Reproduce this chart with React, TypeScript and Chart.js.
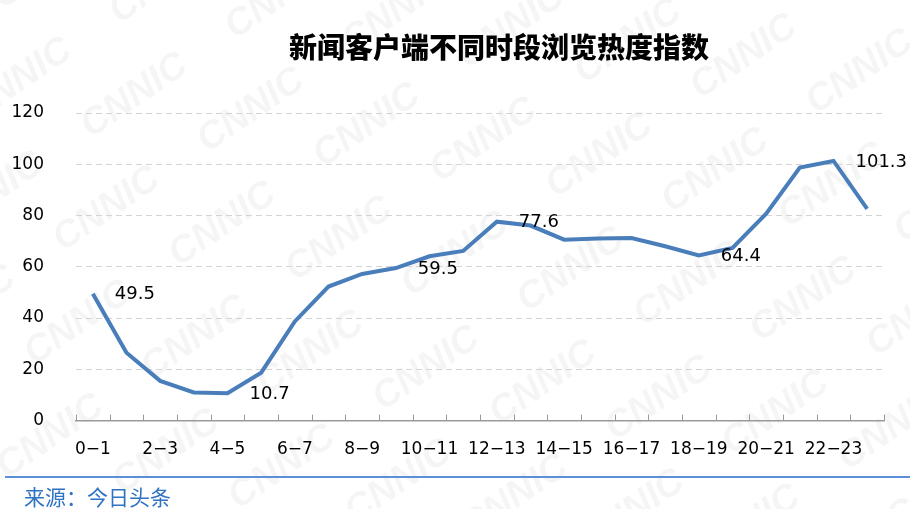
import React, { useEffect, useRef } from 'react';
import { Chart, registerables } from 'chart.js';

Chart.register(...registerables);

const TITLE = '新闻客户端不同时段浏览热度指数';
const SOURCE = '来源：今日头条';
const WATERMARK = 'CNNIC';

const CATEGORIES = [
  '0−1', '1−2', '2−3', '3−4', '4−5', '5−6', '6−7', '7−8', '8−9', '9−10', '10−11', '11−12',
  '12−13', '13−14', '14−15', '15−16', '16−17', '17−18', '18−19', '19−20', '20−21', '21−22', '22−23', '23−24',
];

const VALUES = [
  49.5, 26.5, 15.5, 11.0, 10.7, 18.7, 38.7, 52.3, 57.2, 59.5, 64.1, 66.2,
  77.6, 76.1, 70.6, 71.0, 71.2, 68.0, 64.4, 67.4, 80.7, 98.7, 101.3, 82.6,
];

const LABELED_POINTS = [0, 4, 9, 12, 18, 22];

const Y_MIN = 0;
const Y_MAX = 120;
const Y_STEP = 20;

const LINE_COLOR = '#4a7ebb';
const NUM_FONT = '"DejaVu Sans", "Liberation Sans", Arial, sans-serif';
const CJK_FONT = '"Noto Sans CJK SC", "Noto Sans", sans-serif';

const backgroundPlugin = {
  id: 'bgWatermark',
  beforeDraw(chart: any) {
    const { ctx, width, height } = chart;
    ctx.save();
    ctx.fillStyle = '#ffffff';
    ctx.fillRect(0, 0, width, height);
    ctx.fillStyle = 'rgba(0,0,0,0.04)';
    ctx.font = 'bold italic 38px "Liberation Sans", Arial, sans-serif';
    ctx.textAlign = 'center';
    ctx.textBaseline = 'middle';
    ctx.translate(width / 2, height / 2);
    ctx.rotate(-0.6);
    for (let r = -8; r <= 8; r++) {
      for (let c = -8; c <= 8; c++) {
        ctx.fillText(WATERMARK, c * 175 + (r % 2) * 87, r * 78);
      }
    }
    ctx.restore();
  },
};

const decorPlugin = {
  id: 'decor',
  afterDraw(chart: any) {
    const { ctx, chartArea, width, height } = chart;
    const xScale = chart.scales.x;
    ctx.save();
    // tick marks on the category axis, pointing upward
    ctx.strokeStyle = '#999999';
    ctx.lineWidth = 1;
    const n = CATEGORIES.length;
    const step = (xScale.right - xScale.left) / n;
    for (let i = 0; i <= n; i++) {
      const x = Math.round(xScale.left + i * step) + 0.5;
      ctx.beginPath();
      ctx.moveTo(x, chartArea.bottom);
      ctx.lineTo(x, chartArea.bottom - 6);
      ctx.stroke();
    }
    // data labels
    const meta = chart.getDatasetMeta(0);
    ctx.fillStyle = '#000000';
    ctx.font = `18px ${NUM_FONT}`;
    ctx.textAlign = 'left';
    ctx.textBaseline = 'middle';
    LABELED_POINTS.forEach((i) => {
      const el = meta.data[i];
      ctx.fillText(VALUES[i].toFixed(1), el.x + 22, el.y + 1);
    });
    // title
    ctx.font = `900 28px ${CJK_FONT}`;
    ctx.textAlign = 'center';
    ctx.textBaseline = 'middle';
    ctx.fillStyle = '#000000';
    ctx.fillText(TITLE, (chartArea.left + chartArea.right) / 2 + 19, 47);
    // footer rule and source
    ctx.strokeStyle = '#5b8fd9';
    ctx.lineWidth = 2;
    ctx.beginPath();
    ctx.moveTo(5, height - 32);
    ctx.lineTo(width, height - 32);
    ctx.stroke();
    ctx.fillStyle = '#2f73c4';
    ctx.font = `21px ${CJK_FONT}`;
    ctx.textAlign = 'left';
    ctx.fillText(SOURCE, 24, height - 12);
    ctx.restore();
  },
};

export default function App() {
  const canvasRef = useRef<HTMLCanvasElement | null>(null);

  useEffect(() => {
    document.body.style.margin = '0';
    const canvas = canvasRef.current;
    if (!canvas) return;
    const chart = new Chart(canvas, {
      type: 'line',
      data: {
        labels: CATEGORIES,
        datasets: [
          {
            data: VALUES,
            borderColor: LINE_COLOR,
            borderWidth: 4,
            pointRadius: 0,
            tension: 0,
            fill: false,
            borderJoinStyle: 'miter',
          },
        ],
      },
      options: {
        animation: false,
        responsive: false,
        devicePixelRatio: 1,
        layout: { padding: { left: 12, right: 26, top: 113, bottom: 30 } },
        plugins: {
          legend: { display: false },
          tooltip: { enabled: false },
          title: { display: false },
        },
        scales: {
          x: {
            offset: true,
            grid: { display: false, drawTicks: false },
            border: { display: true, color: '#9a9a9a', width: 1.5 },
            ticks: {
              autoSkip: false,
              maxRotation: 0,
              minRotation: 0,
              padding: 19,
              color: '#000000',
              font: { family: NUM_FONT, size: 17 },
              callback: (_v: any, i: number) => (i % 2 === 0 ? CATEGORIES[i] : ''),
            },
          },
          y: {
            min: Y_MIN,
            max: Y_MAX,
            grid: { color: '#d4d4d4', lineWidth: 1, drawTicks: false },
            border: { display: false, dash: [6, 4] },
            ticks: {
              stepSize: Y_STEP,
              padding: 32,
              color: '#000000',
              font: { family: NUM_FONT, size: 17 },
            },
            afterFit: (scale: any) => {
              scale.width = 64;
            },
          },
        },
      },
      plugins: [backgroundPlugin, decorPlugin],
    });
    return () => chart.destroy();
  }, []);

  return (
    <div style={{ width: 910, height: 509 }}>
      <canvas ref={canvasRef} width={910} height={509} style={{ display: 'block' }} />
    </div>
  );
}
